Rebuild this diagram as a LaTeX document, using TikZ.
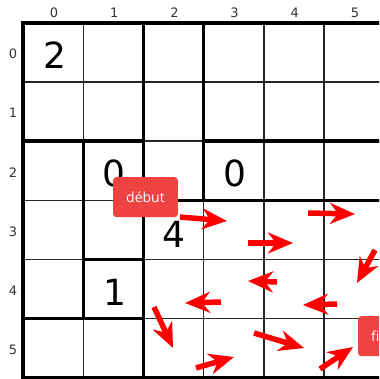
\documentclass[tikz,border=0pt]{standalone}
\usepackage{fontspec}
\setmainfont{DejaVu Sans}
\newfontfamily\labelfont{Open Sans}
\usetikzlibrary{arrows.meta}
\definecolor{boxred}{RGB}{239,66,66}
\definecolor{arrred}{RGB}{255,0,0}
\begin{document}
\begin{tikzpicture}[x=1pt,y=-1pt,
  thinline/.style={line width=1.4pt, draw=black!85},
  thickline/.style={line width=3.4pt, draw=black, line cap=rect},
  bignum/.style={font=\fontsize{36}{36}\selectfont, inner sep=0pt},
  idx/.style={font=\fontsize{13}{13}\selectfont, text=black!80, inner sep=0pt},
  tag/.style={fill=boxred, rounded corners=3pt, text=white, font=\labelfont\fontsize{14}{14}\selectfont, inner xsep=13pt, minimum height=40pt},
  redarrow/.style={draw=arrred, line width=5.5pt, -{Stealth[length=25pt,width=21pt,inset=8pt]}}
]
\useasboundingbox (0,0) rectangle (379,379);
\clip (0,0) rectangle (379,379);
\foreach \i in {0,...,6} {
  \foreach \j in {0,...,6} {
    \coordinate (g\i\j) at ({23+60.2*\i},{23+59.1*\j});
  }
}
% thin grid
\foreach \i in {0,...,6} { \draw[thinline] (g\i0) -- (g\i6); }
\foreach \j in {0,...,6} { \draw[thinline] (g0\j) -- (g6\j); }
% thick region borders
\draw[thickline] (g00) -- (g60);
\draw[thickline] (g06) -- (g66);
\draw[thickline] (g00) -- (g06);
\draw[thickline] (g60) -- (g66);
\draw[thickline] (g12) -- (g15);
\draw[thickline] (g20) -- (g26);
\draw[thickline] (g30) -- (g33);
\draw[thickline] (g02) -- (g22);
\draw[thickline] (g32) -- (g62);
\draw[thickline] (g23) -- (g63);
\draw[thickline] (g14) -- (g24);
\draw[thickline] (g05) -- (g25);
% indices
\foreach \i in {0,...,5} { \node[idx] (c\i) at ({54+60.2*\i},13) {\i}; }
\foreach \j in {0,...,5} { \node[idx] (r\j) at (13,{54+59.1*\j}) {\j}; }
% numbers
\node[bignum] (n00) at (55,55) {2};
\node[bignum] (n12) at (114,173) {0};
\node[bignum] (n32) at (235,173) {0};
\node[bignum] (n23) at (174,234) {4};
\node[bignum] (n14) at (115,292) {1};
% arrows
\coordinate (a1s) at (180,217); \coordinate (a1e) at (227,221);
\coordinate (a2s) at (308,213); \coordinate (a2e) at (355,214);
\coordinate (a3s) at (248,243); \coordinate (a3e) at (293,243);
\coordinate (a4s) at (375,250); \coordinate (a4e) at (357,283);
\coordinate (a5s) at (277,282); \coordinate (a5e) at (248,281);
\coordinate (a6s) at (221,302); \coordinate (a6e) at (185,303);
\coordinate (a7s) at (337,304); \coordinate (a7e) at (303,305);
\coordinate (a8s) at (154,307); \coordinate (a8e) at (173,348);
\coordinate (a9s) at (196,368); \coordinate (a9e) at (234,357);
\coordinate (a10s) at (254,333); \coordinate (a10e) at (304,348);
\coordinate (a11s) at (320,369); \coordinate (a11e) at (353,347);
\foreach \k in {1,...,11} { \draw[redarrow] (a\k s) -- (a\k e); }
% tags
\node[tag, anchor=north west] (debut) at (113,177) {début};
\node[tag, anchor=north west] (fin) at (358,316) {fin};
\end{tikzpicture}
\end{document}
